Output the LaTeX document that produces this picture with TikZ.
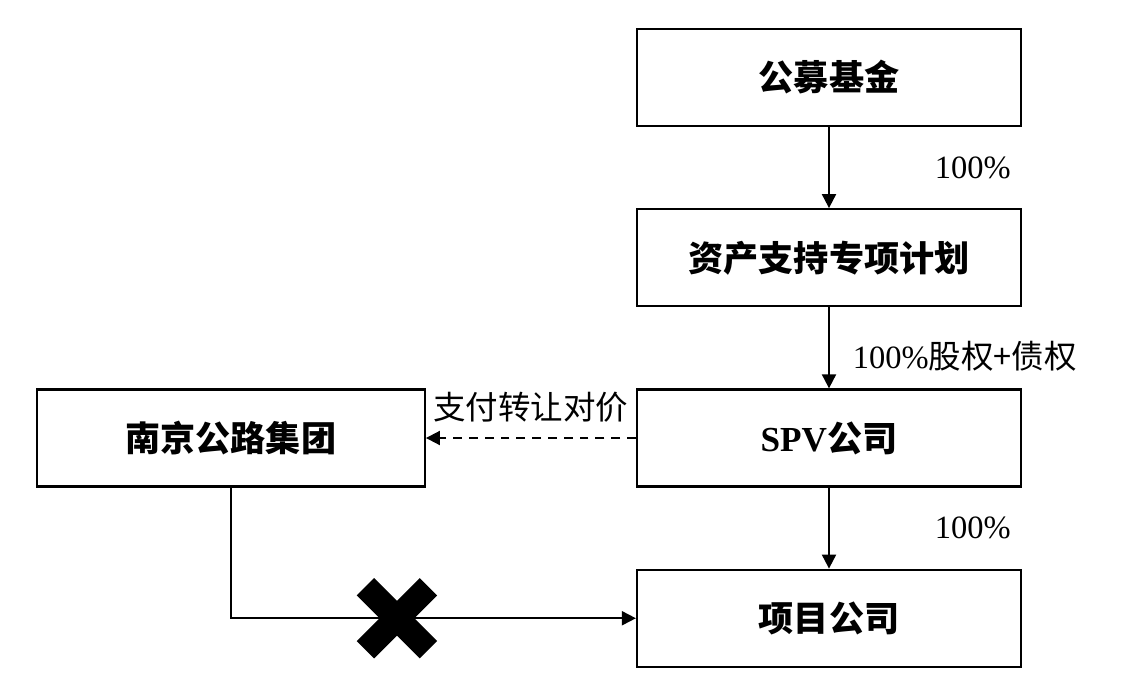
\documentclass[tikz,border=0pt]{standalone}
\usepackage{fontspec}
\setmainfont{Liberation Serif}
\newfontfamily\cjk{Noto Sans CJK SC}
\usetikzlibrary{positioning,arrows.meta,shapes.misc}

\begin{document}
\begin{tikzpicture}[x=0.02cm,y=-0.02cm,>={Triangle[length=8pt,width=8pt]},
  node distance=1.62cm and 4.2cm,
  main node/.style={rectangle,draw,line width=1.3pt,minimum width=7.68cm,minimum height=1.94cm,font=\fontsize{20}{24}\selectfont\bfseries\cjk},
  lbl/.style={inner sep=0pt,font=\fontsize{18.5}{22}\selectfont\cjk},
  cross mark/.style={cross out,draw,line width=14pt,minimum size=1.26cm,inner sep=0pt,outer sep=0pt}]
  \useasboundingbox (0,0) rectangle (1134,674);

  \node[main node] (fund) at (829,77.5) {公募基金};
  \node[main node] (abs) [below=of fund] {资产支持专项计划};
  \node[main node] (spv) [below=of abs] {{\rmfamily SPV}公司};
  \node[main node] (proj) [below=of spv] {项目公司};
  \node[main node,minimum width=7.76cm] (group) [left=of spv] {南京公路集团};

  \path[->,line width=1.1pt]
  (fund) edge node[lbl,right=2.1cm] {{\rmfamily 100\%}} (abs)
  (abs) edge node[lbl,right=0.46cm,pos=0.6] {{\rmfamily 100\%}股权+债权} (spv)
  (spv) edge node[lbl,right=2.1cm] {{\rmfamily 100\%}} (proj);
  \draw[->,line width=1.1pt,dash pattern=on 5pt off 4pt] (spv) -- node[lbl,above=0.3cm] {支付转让对价} (group);
  \draw[->,line width=1.1pt] (group) |- node[cross mark,pos=0.705] {} (proj);
\end{tikzpicture}
\end{document}
